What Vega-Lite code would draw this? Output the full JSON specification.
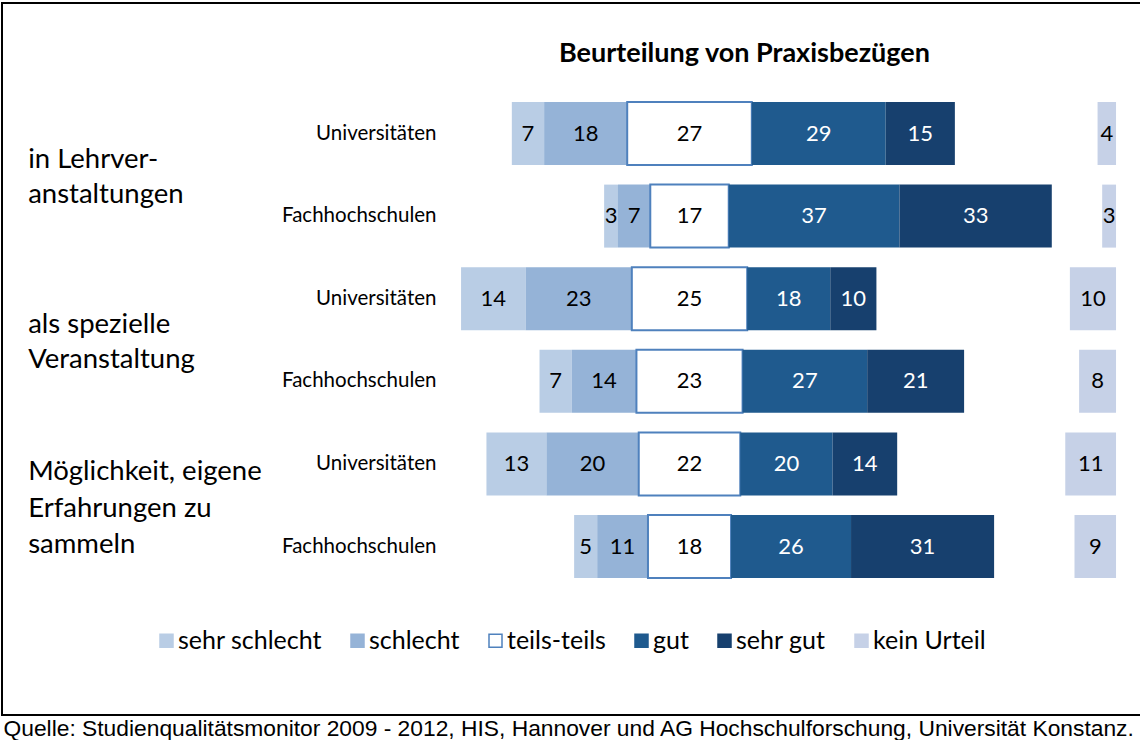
{
  "$schema": "https://vega.github.io/schema/vega-lite/v6.json",
  "width": 1139,
  "height": 712,
  "autosize": {"type": "none"},
  "padding": {"left": 2, "top": 3, "right": 0, "bottom": 25},
  "background": "white",
  "config": {
    "font": "Lato",
    "view": {"stroke": "black", "strokeWidth": 2},
    "legend": {"symbolStrokeWidth": 1.5}
  },
  "title": {
    "text": "Beurteilung von Praxisbezügen",
    "anchor": "middle",
    "frame": "group",
    "font": "Lato",
    "fontSize": 27,
    "fontWeight": "bold",
    "color": "black",
    "baseline": "alphabetic",
    "offset": -86,
    "dx": 173
  },
  "data": {
    "values": [
      {"row": "1|Universitäten", "cat": "sehr schlecht", "value": 7},
      {"row": "1|Universitäten", "cat": "schlecht", "value": 18},
      {"row": "1|Universitäten", "cat": "teils-teils", "value": 27},
      {"row": "1|Universitäten", "cat": "gut", "value": 29},
      {"row": "1|Universitäten", "cat": "sehr gut", "value": 15},
      {"row": "1|Universitäten", "cat": "kein Urteil", "value": 4},
      {"row": "2|Fachhochschulen", "cat": "sehr schlecht", "value": 3},
      {"row": "2|Fachhochschulen", "cat": "schlecht", "value": 7},
      {"row": "2|Fachhochschulen", "cat": "teils-teils", "value": 17},
      {"row": "2|Fachhochschulen", "cat": "gut", "value": 37},
      {"row": "2|Fachhochschulen", "cat": "sehr gut", "value": 33},
      {"row": "2|Fachhochschulen", "cat": "kein Urteil", "value": 3},
      {"row": "3|Universitäten", "cat": "sehr schlecht", "value": 14},
      {"row": "3|Universitäten", "cat": "schlecht", "value": 23},
      {"row": "3|Universitäten", "cat": "teils-teils", "value": 25},
      {"row": "3|Universitäten", "cat": "gut", "value": 18},
      {"row": "3|Universitäten", "cat": "sehr gut", "value": 10},
      {"row": "3|Universitäten", "cat": "kein Urteil", "value": 10},
      {"row": "4|Fachhochschulen", "cat": "sehr schlecht", "value": 7},
      {"row": "4|Fachhochschulen", "cat": "schlecht", "value": 14},
      {"row": "4|Fachhochschulen", "cat": "teils-teils", "value": 23},
      {"row": "4|Fachhochschulen", "cat": "gut", "value": 27},
      {"row": "4|Fachhochschulen", "cat": "sehr gut", "value": 21},
      {"row": "4|Fachhochschulen", "cat": "kein Urteil", "value": 8},
      {"row": "5|Universitäten", "cat": "sehr schlecht", "value": 13},
      {"row": "5|Universitäten", "cat": "schlecht", "value": 20},
      {"row": "5|Universitäten", "cat": "teils-teils", "value": 22},
      {"row": "5|Universitäten", "cat": "gut", "value": 20},
      {"row": "5|Universitäten", "cat": "sehr gut", "value": 14},
      {"row": "5|Universitäten", "cat": "kein Urteil", "value": 11},
      {"row": "6|Fachhochschulen", "cat": "sehr schlecht", "value": 5},
      {"row": "6|Fachhochschulen", "cat": "schlecht", "value": 11},
      {"row": "6|Fachhochschulen", "cat": "teils-teils", "value": 18},
      {"row": "6|Fachhochschulen", "cat": "gut", "value": 26},
      {"row": "6|Fachhochschulen", "cat": "sehr gut", "value": 31},
      {"row": "6|Fachhochschulen", "cat": "kein Urteil", "value": 9}
    ]
  },
  "encoding": {
    "y": {
      "field": "row",
      "type": "nominal",
      "scale": {
        "domain": ["1|Universitäten", "2|Fachhochschulen", "3|Universitäten", "4|Fachhochschulen", "5|Universitäten", "6|Fachhochschulen"],
        "range": [89.2, 584.8],
        "paddingInner": 0.2373,
        "paddingOuter": 0.11865
      },
      "axis": {
        "title": null,
        "labelExpr": "split(datum.value, '|')[1]",
        "ticks": false,
        "domain": false,
        "grid": false,
        "offset": -434,
        "labelPadding": 0,
        "labelFont": "Lato",
        "labelFontSize": 20.5,
        "labelColor": "black"
      }
    }
  },
  "layer": [
    {
      "transform": [
        {"filter": "datum.cat !== 'kein Urteil'"},
        {"calculate": "indexof(['sehr schlecht','schlecht','teils-teils','gut','sehr gut'], datum.cat)", "as": "ord"},
        {"calculate": "datum.ord < 2 ? datum.value : (datum.ord === 2 ? datum.value / 2 : 0)", "as": "negpart"},
        {"joinaggregate": [{"op": "sum", "field": "negpart", "as": "shift"}], "groupby": ["row"]},
        {"stack": "value", "groupby": ["row"], "sort": [{"field": "ord", "order": "ascending"}], "as": ["s0", "s1"]},
        {"calculate": "datum.s0 - datum.shift", "as": "x0"},
        {"calculate": "datum.s1 - datum.shift", "as": "x1"},
        {"calculate": "(datum.x0 + datum.x1) / 2", "as": "xm"}
      ],
      "layer": [
        {
          "mark": {"type": "bar"},
          "encoding": {
            "x": {
              "field": "x0",
              "type": "quantitative",
              "scale": {"domain": [-148.97, 97.83], "nice": false, "zero": false},
              "axis": {
                "labels": false,
                "ticks": false,
                "domain": false,
                "grid": false,
                "title": "Quelle: Studienqualitätsmonitor 2009 - 2012, HIS, Hannover und AG Hochschulforschung, Universität Konstanz.",
                "titleFont": "Liberation Sans",
                "titleFontSize": 22.8,
                "titleFontWeight": "normal",
                "titleColor": "black",
                "titleAnchor": "start",
                "titleAlign": "left",
                "titleBaseline": "alphabetic",
                "titleX": 1,
                "titleY": 20
              }
            },
            "x2": {"field": "x1"},
            "color": {
              "field": "cat",
              "type": "nominal",
              "scale": {
                "domain": ["sehr schlecht", "schlecht", "teils-teils", "gut", "sehr gut", "kein Urteil"],
                "range": ["#B9CDE5", "#95B3D7", "#FFFFFF", "#1F5A8E", "#17406E", "#C6D1E7"]
              },
              "legend": {
                "title": null,
                "orient": "none",
                "direction": "horizontal",
                "columns": 6,
                "legendX": 152,
                "legendY": 625,
                "symbolType": "square",
                "symbolSize": 169,
                "labelFont": "Lato",
                "labelFontSize": 25,
                "labelColor": "black",
                "labelOffset": -1,
                "columnPadding": 23
              }
            },
            "stroke": {
              "field": "cat",
              "type": "nominal",
              "scale": {
                "domain": ["sehr schlecht", "schlecht", "teils-teils", "gut", "sehr gut", "kein Urteil"],
                "range": ["#B9CDE5", "#95B3D7", "#4F81BD", "#1F5A8E", "#17406E", "#C6D1E7"]
              },
              "legend": {
                "title": null,
                "orient": "none",
                "direction": "horizontal",
                "columns": 6,
                "legendX": 152,
                "legendY": 625,
                "symbolType": "square",
                "symbolSize": 169,
                "labelFont": "Lato",
                "labelFontSize": 25,
                "labelColor": "black",
                "labelOffset": -1,
                "columnPadding": 23
              }
            },
            "strokeWidth": {"condition": {"test": "datum.cat === 'teils-teils'", "value": 2}, "value": 0}
          }
        },
        {
          "mark": {"type": "text", "font": "Lato", "fontSize": 22, "baseline": "middle", "align": "center"},
          "encoding": {
            "x": {"field": "xm", "type": "quantitative"},
            "text": {"field": "value", "type": "quantitative"},
            "color": {"condition": {"test": "datum.ord >= 3", "value": "white"}, "value": "black"}
          }
        }
      ]
    },
    {
      "transform": [
        {"filter": "datum.cat === 'kein Urteil'"},
        {"calculate": "92.42 - datum.value", "as": "k0"},
        {"calculate": "92.42 - datum.value / 2", "as": "km"}
      ],
      "layer": [
        {
          "mark": {"type": "bar"},
          "encoding": {
            "x": {"field": "k0", "type": "quantitative"},
            "x2": {"datum": 92.42},
            "color": {"field": "cat", "type": "nominal"}
          }
        },
        {
          "mark": {"type": "text", "font": "Lato", "fontSize": 22, "baseline": "middle", "align": "center", "color": "black"},
          "encoding": {
            "x": {"field": "km", "type": "quantitative"},
            "text": {"field": "value", "type": "quantitative"}
          }
        }
      ]
    },
    {
      "data": {
        "values": [
          {"row": "1|Universitäten", "label": "in Lehrver-\nanstaltungen", "lines": 2},
          {"row": "3|Universitäten", "label": "als spezielle\nVeranstaltung", "lines": 2},
          {"row": "5|Universitäten", "label": "Möglichkeit, eigene\nErfahrungen zu\nsammeln", "lines": 3}
        ]
      },
      "layer": [
        {
          "transform": [{"filter": "datum.lines === 2"}],
          "mark": {"type": "text", "font": "Lato", "fontSize": 27.5, "align": "left", "baseline": "middle", "lineBreak": "\n", "lineHeight": 35, "dy": 26, "color": "black"},
          "encoding": {
            "x": {"datum": -143.3},
            "text": {"field": "label", "type": "nominal"}
          }
        },
        {
          "transform": [{"filter": "datum.lines === 3"}],
          "mark": {"type": "text", "font": "Lato", "fontSize": 27.5, "align": "left", "baseline": "middle", "lineBreak": "\n", "lineHeight": 36.5, "dy": 8.5, "color": "black"},
          "encoding": {
            "x": {"datum": -143.3},
            "text": {"field": "label", "type": "nominal"}
          }
        }
      ]
    }
  ]
}
